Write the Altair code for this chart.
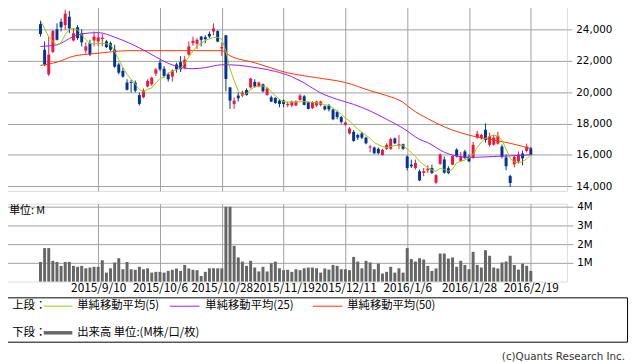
import altair as alt
import pandas as pd

# ---------------- data ----------------
tick_idx = [14, 29, 44, 59, 74, 89, 104, 119]
tick_labels = ["2015/9/10", "2015/10/6", "2015/10/28", "2015/11/19",
               "2015/12/11", "2016/1/6", "2016/1/28", "2016/2/19"]

opens = [24330, 22700, 21130, 22560, 24000, 24480, 24270, 24800, 23290, 24130,
         23750, 22640, 23120, 23290, 23230, 23380, 23230, 23120, 22700, 21760,
         21350, 20610, 20650, 20610, 19810, 19670, 20360, 20500, 21180, 21870,
         21490, 21130, 20990, 21760, 21910, 21550, 22390, 23120, 23080, 23540,
         23500, 23710, 23860, 23890, 22780, 23620, 20300, 19250, 19780, 19780,
         20130, 20300, 20650, 20360, 20500, 19810, 19670, 19630, 19460, 19460,
         19170, 19150, 19150, 19500, 19730, 19360, 18980, 19150, 19190, 19100,
         19150, 18900, 18730, 18410, 17930, 17370, 17470, 17270, 17370, 17100,
         16470, 16470, 16390, 15990, 16390, 16390, 17050, 16590, 16680, 15900,
         15380, 15170, 14960, 14850, 15020, 15170, 14230, 15430, 15710, 15150,
         15380, 16340, 15620, 16220, 15900, 15810, 17100, 17050, 17600, 16640,
         16660, 16720, 16530, 15840, 14650, 15400, 15590, 16090, 16260, 16420]
highs = [24550, 23230, 23540, 23960, 24380, 24690, 25250, 25170, 24060, 24270,
         24000, 23170, 23330, 23860, 23750, 23700, 23330, 23230, 23020, 21870,
         21550, 20820, 20780, 20740, 19980, 20230, 20820, 20990, 21530, 22040,
         21660, 21240, 21450, 21870, 22290, 22290, 23230, 23540, 23440, 23580,
         23620, 23860, 24380, 23940, 23180, 23640, 20330, 19670, 19980, 20090,
         20230, 20920, 20820, 20670, 20550, 20300, 19780, 19670, 19560, 19520,
         19400, 19460, 19480, 19880, 19810, 19400, 19420, 19460, 19460, 19150,
         19250, 18930, 18830, 18480, 18140, 17770, 17580, 17350, 17470, 17160,
         16640, 16530, 16470, 16390, 16740, 17100, 17110, 17270, 16720, 15970,
         15700, 15700, 15070, 15170, 15340, 15380, 14770, 16090, 15900, 15280,
         15970, 16420, 16190, 16320, 16030, 16840, 17540, 17350, 18010, 17410,
         17280, 17470, 16660, 16030, 14740, 15970, 16220, 16280, 16720, 16500]
lows = [23540, 21660, 21030, 22490, 23290, 23870, 23960, 23750, 23230, 23330,
        22910, 22450, 22290, 22910, 22950, 22920, 22810, 22600, 21550, 21130,
        20920, 20110, 19980, 19980, 19150, 19610, 20300, 20400, 21030, 21350,
        20920, 20670, 20670, 21240, 21280, 21450, 22320, 22950, 22750, 22910,
        23120, 23440, 23620, 23180, 22310, 20050, 18930, 18930, 19400, 19670,
        19780, 20230, 20300, 20300, 19980, 19780, 19360, 19250, 19040, 19040,
        19040, 19040, 19100, 19460, 19150, 18900, 18920, 19040, 19100, 18830,
        18770, 18210, 18270, 17990, 17850, 17300, 16840, 16950, 17010, 16680,
        16170, 16050, 16030, 15970, 16320, 16320, 16680, 16390, 16320, 15010,
        15170, 15070, 14330, 14650, 14840, 14790, 14160, 15370, 14800, 14770,
        15340, 15840, 15560, 15750, 15550, 15760, 17030, 16970, 16780, 16530,
        16590, 16660, 15780, 15020, 13960, 15210, 15460, 15340, 16150, 15970]
closes = [23700, 21760, 22390, 23890, 23330, 24130, 25000, 24060, 23750, 23440,
          23170, 22910, 22390, 23540, 23480, 23470, 22870, 22700, 21620, 21240,
          20990, 20150, 20590, 20090, 19250, 20090, 20720, 20920, 21450, 21450,
          21030, 20820, 21380, 21450, 21450, 22070, 22910, 23270, 23330, 23330,
          23370, 23540, 24060, 23220, 22870, 20840, 19460, 19460, 19610, 19980,
          19810, 20860, 20360, 20610, 20050, 20230, 19400, 19310, 19250, 19250,
          19250, 19400, 19400, 19780, 19190, 18930, 19360, 19400, 19400, 18900,
          18900, 18270, 18410, 18100, 18060, 17680, 16890, 17100, 17100, 16740,
          16530, 16110, 16110, 16320, 16640, 17010, 16740, 16680, 16390, 15170,
          15280, 15480, 14380, 14960, 15120, 14850, 14710, 16030, 14870, 14840,
          15930, 15900, 15900, 15800, 15590, 16640, 17350, 17270, 16950, 17200,
          17100, 17220, 15870, 15280, 14210, 15870, 16030, 15780, 16530, 16010]
ma5 = [24560, 24040, 23530, 23220, 22980, 23150, 23660, 24000, 24060, 23970,
       23640, 23340, 23100, 23080, 23080, 23100, 23080, 23030, 22590, 22070,
       21580, 21130, 20830, 20520, 20170, 20030, 20190, 20270, 20590, 20860,
       20960, 21210, 21330, 21430, 21490, 21870, 22240, 22620, 22930, 23120,
       23280, 23400, 23470, 23490, 23370, 22620, 21490, 20740, 20080, 19830,
       19890, 20170, 20330, 20360, 20390, 20300, 20050, 19760, 19540, 19390,
       19360, 19360, 19370, 19390, 19400, 19370, 19340, 19320, 19290, 19200,
       19150, 18980, 18790, 18600, 18350, 18160, 17910, 17630, 17440, 17250,
       17060, 16780, 16660, 16530, 16470, 16530, 16590, 16620, 16590, 16370,
       16150, 15900, 15590, 15370, 15180, 15040, 14960, 15150, 15060, 14960,
       15090, 15500, 15590, 15680, 15800, 16030, 16470, 16810, 17060, 17190,
       17270, 17190, 16940, 16370, 15780, 15560, 15480, 15580, 15750, 16010]
ma25_idx = [0, 4, 8, 10, 14, 18, 22, 26, 30, 33, 37, 40, 44, 46, 50, 53, 57,
            61, 64, 68, 72, 76, 80, 84, 88, 92, 94, 98, 102, 104, 110, 114, 119]
ma25 = [22910, 23020, 23540, 23710, 23790, 23500, 23070, 22540, 21960, 21640,
        21490, 21560, 21740, 21740, 21650, 21530, 21320, 20980, 20580, 19950,
        19540, 19220, 18800, 18270, 17700, 16990, 16780, 16170, 15890, 15840,
        15900, 15940, 16010]
ma50_idx = [0, 4, 8, 13, 17, 21, 30, 38, 44, 46, 52, 60, 67, 74, 80, 84, 88,
            90, 94, 98, 104, 110, 114, 119]
ma50 = [21700, 21910, 22290, 22450, 22560, 22640, 22640, 22640, 22640, 22320,
        21870, 21230, 20920, 20610, 20090, 19780, 19350, 18930, 18310, 17790,
        17260, 16950, 16740, 16400]
volume = [1.05, 1.79, 1.79, 1.11, 1.05, 0.84, 1.05, 1.05, 0.84, 0.79,
          0.84, 0.71, 0.75, 0.79, 0.79, 1.14, 0.48, 0.71, 1.02, 1.25,
          0.66, 1.05, 0.66, 0.63, 0.79, 0.66, 0.71, 0.48, 0.52, 0.52,
          0.48, 0.57, 0.63, 0.70, 0.57, 0.89, 0.70, 0.63, 0.61, 0.30,
          0.52, 0.71, 0.71, 0.71, 0.71, 4.00, 4.00, 1.91, 1.29, 1.07,
          0.84, 1.11, 0.75, 0.54, 0.79, 0.54, 0.98, 1.07, 0.71, 0.61,
          0.63, 0.52, 0.66, 0.61, 0.71, 0.75, 0.75, 0.71, 0.48, 0.70,
          0.64, 0.89, 0.84, 0.66, 0.66, 0.61, 1.32, 1.07, 0.71, 1.11,
          1.02, 0.66, 0.96, 0.43, 0.52, 0.79, 0.48, 0.71, 0.48, 1.79,
          1.20, 1.07, 1.25, 1.18, 0.84, 0.57, 0.70, 1.50, 1.50, 1.23,
          1.29, 0.79, 1.11, 0.89, 0.66, 1.59, 0.89, 0.75, 1.68, 1.38,
          0.75, 0.70, 1.02, 1.07, 1.38, 0.89, 0.64, 0.96, 0.84, 0.57]
price_ticks = [14000, 16000, 18000, 20000, 22000, 24000]
vol_ticks = [1, 2, 3, 4]
ma_labels = ["単純移動平均(5)", "単純移動平均(25)", "単純移動平均(50)"]
row_labels = ["上段：", "下段："]
vol_label = "出来高 単位:(M株/口/枚)"
unit_label = "単位: M"
credit = "(c)Quants Research Inc."

# ---------------- styling ----------------
RED = "#f0143c"
BLUE = "#003399"
C_MA5 = "#99cc00"
C_MA25 = "#9a1cf0"
C_MA50 = "#ff3300"
GRAY_BAR = "#666666"
GRID = "#a0a0a0"
JP = "Noto Sans CJK JP"
NUM = "DejaVu Sans"

n = len(opens)
df = pd.DataFrame({
    "i": list(range(n)), "open": opens, "high": highs, "low": lows,
    "close": closes, "ma5": ma5, "vol": volume,
})
df["dir"] = ["up" if c >= o else "down" for o, c in zip(opens, closes)]
df25 = pd.DataFrame({"i": ma25_idx, "v": ma25})
df50 = pd.DataFrame({"i": ma50_idx, "v": ma50})

xscale = alt.Scale(domain=[-8.77, 127.77], nice=False, zero=False)
x_up_axis = alt.Axis(values=tick_idx, grid=True, labels=False, ticks=False,
                     domain=False, title=None, gridColor=GRID)
x_up = alt.X("i:Q", scale=xscale, axis=x_up_axis)

yscale = alt.Scale(domain=[13705, 25630], nice=False, zero=False)
y_axis = alt.Axis(orient="right", values=price_ticks, format=",.0f", title=None,
                  grid=True, gridColor=GRID, domain=False, tickColor=GRID,
                  tickSize=5, labelPadding=4, labelFont=NUM, labelFontSize=10.5,
                  labelColor="#000000")

def Y(field):
    return alt.Y(field, type="quantitative", scale=yscale, axis=y_axis)

color = alt.Color("dir:N", scale=alt.Scale(domain=["up", "down"], range=[RED, BLUE]),
                  legend=None)

base = alt.Chart(df)
wicks = base.mark_rule(strokeWidth=1).encode(x=x_up, y=Y("low"), y2="high:Q", color=color)
bodies = base.mark_rule(strokeWidth=3).encode(x=x_up, y=Y("open"), y2="close:Q", color=color)
line5 = base.mark_line(color=C_MA5, strokeWidth=1).encode(x=x_up, y=Y("ma5"))
line25 = alt.Chart(df25).mark_line(color=C_MA25, strokeWidth=1, interpolate="monotone").encode(x=x_up, y=Y("v"))
line50 = alt.Chart(df50).mark_line(color=C_MA50, strokeWidth=1, interpolate="monotone").encode(x=x_up, y=Y("v"))

upper = alt.layer(wicks, bodies, line50, line25, line5).properties(width=571, height=190)

# ---------------- volume panel ----------------
label_arr = "[" + ",".join("'%s'" % t for t in tick_labels) + "]"
x_vol_axis = alt.Axis(values=tick_idx, grid=True, ticks=False, domain=False, title=None,
                      gridColor=GRID, labelExpr="%s[round((datum.value - 14) / 15)]" % label_arr,
                      labelFont=JP, labelFontSize=12, labelPadding=1, labelOverlap=False,
                      labelFlush=False, labelBound=False, labelColor="#000000")
y_vol_axis = alt.Axis(orient="right", values=vol_ticks, labelExpr="datum.value + 'M'",
                      title=None, grid=True, gridColor=GRID, domain=False, tickColor=GRID,
                      tickSize=6, labelPadding=4, labelFont=NUM, labelFontSize=10.5,
                      labelColor="#000000")
bars = base.mark_rule(strokeWidth=3, color=GRAY_BAR).encode(
    x=alt.X("i:Q", scale=xscale, axis=x_vol_axis),
    y=alt.Y("vol:Q", scale=alt.Scale(domain=[0, 4.16], nice=False), axis=y_vol_axis),
    y2=alt.datum(0),
)
one = alt.Chart(pd.DataFrame({"k": [0]}))
unit_txt = one.mark_text(text=unit_label, font=JP, fontSize=11, align="left",
                         baseline="middle", color="#000000").encode(
    x=alt.value(5), y=alt.value(7))
volume_chart = alt.layer(bars, unit_txt).properties(width=571, height=79)

# ---------------- legend box ----------------
def txt(s, x, y, align="left"):
    return one.mark_text(text=s, font=JP, fontSize=11.5, align=align, baseline="middle",
                         color="#000000").encode(x=alt.value(x), y=alt.value(y))

def seg(x1, x2, y, c, w):
    return one.mark_rule(color=c, strokeWidth=w).encode(
        x=alt.value(x1), x2=alt.value(x2), y=alt.value(y))

R1, R2 = 9, 36
legend = alt.layer(
    txt(row_labels[0], 8, R1),
    seg(40, 69, R1, C_MA5, 1), txt(ma_labels[0], 74, R1),
    seg(168, 198, R1, C_MA25, 1), txt(ma_labels[1], 204, R1),
    seg(313, 343, R1, C_MA50, 1), txt(ma_labels[2], 348, R1),
    txt(row_labels[1], 8, R2),
    seg(40, 69, R2, GRAY_BAR, 3.5), txt(vol_label, 74, R2),
    one.mark_text(text=credit, font=NUM, fontSize=10.5, align="right", baseline="middle",
                  color="#333333").encode(x=alt.value(630), y=alt.value(61)),
).properties(width=632, height=45, view=alt.ViewBackground(stroke="#000000", strokeWidth=1))

chart = alt.vconcat(
    upper,
    alt.vconcat(volume_chart, legend, spacing=2),
    spacing=8,
).properties(
    padding={"left": -4.7, "top": -8, "right": 2, "bottom": 0}
).configure_view(stroke=GRID, strokeWidth=1).configure(background="#ffffff")

chart.save("out.html", embed_options={"renderer": "svg", "actions": False})
